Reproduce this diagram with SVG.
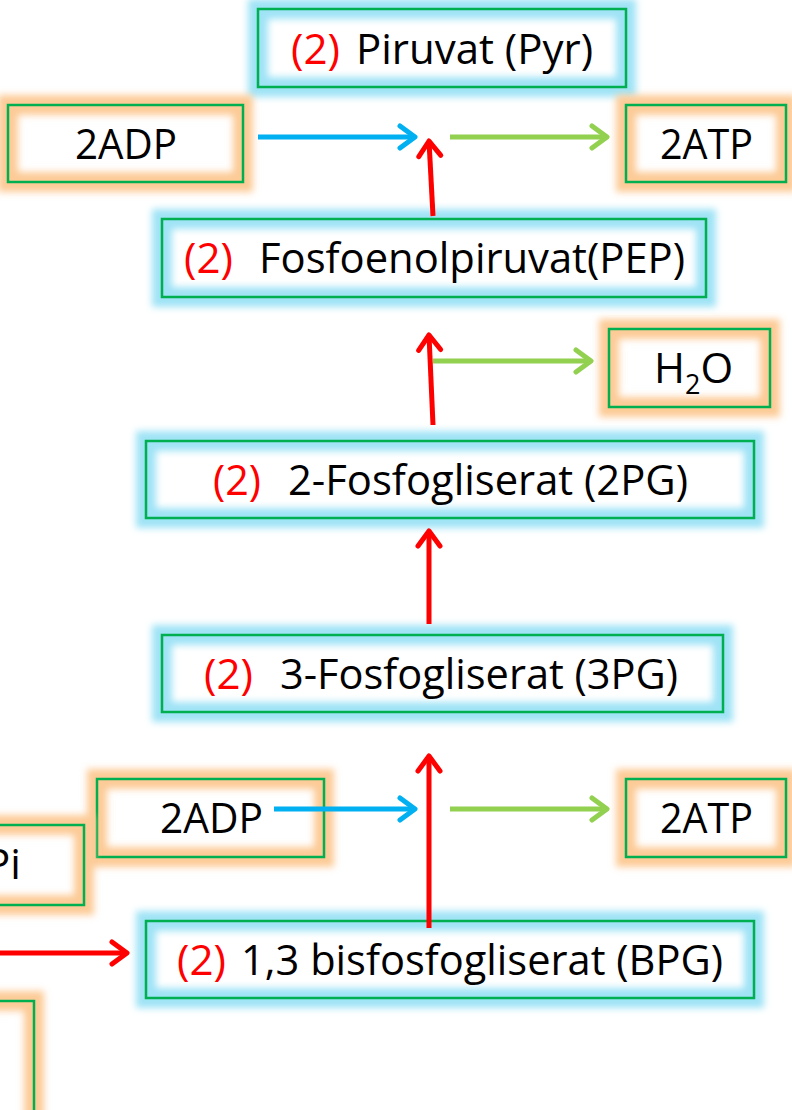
<svg xmlns="http://www.w3.org/2000/svg" width="792" height="1110" viewBox="0 0 792 1110">
<style>
  .lbl { font-family: "Open Sans", "Liberation Sans", sans-serif; font-size: 42px; fill: #000; }
  .num { fill: #FF0000; }
  .border { fill: none; stroke: #00B050; stroke-width: 2.5; }
  .gb { fill: none; stroke: #9FE3F6; stroke-width: 20; filter: url(#blur); }
  .go { fill: none; stroke: #FCCB96; stroke-width: 20; filter: url(#blur); }
  .red { stroke: #FF0000; stroke-width: 5; fill: none; marker-end: url(#mr); }
  .blue { stroke: #00B0F0; stroke-width: 5; fill: none; marker-end: url(#mb); }
  .green { stroke: #92D050; stroke-width: 5; fill: none; marker-end: url(#mg); }
</style>
<defs>
  <filter id="blur" x="-30%" y="-60%" width="160%" height="220%">
    <feGaussianBlur stdDeviation="3.8"/>
  </filter>
  <marker id="mr" markerUnits="userSpaceOnUse" viewBox="-22 -16 28 32" markerWidth="28" markerHeight="32" refX="0" refY="0" orient="auto" overflow="visible">
    <path d="M-15,-11 L0,0 L-15,11" fill="none" stroke="#FF0000" stroke-width="5" stroke-linecap="round" stroke-linejoin="round"/>
  </marker>
  <marker id="mb" markerUnits="userSpaceOnUse" viewBox="-22 -16 28 32" markerWidth="28" markerHeight="32" refX="0" refY="0" orient="auto" overflow="visible">
    <path d="M-15,-11 L0,0 L-15,11" fill="none" stroke="#00B0F0" stroke-width="5" stroke-linecap="round" stroke-linejoin="round"/>
  </marker>
  <marker id="mg" markerUnits="userSpaceOnUse" viewBox="-22 -16 28 32" markerWidth="28" markerHeight="32" refX="0" refY="0" orient="auto" overflow="visible">
    <path d="M-15,-11 L0,0 L-15,11" fill="none" stroke="#92D050" stroke-width="5" stroke-linecap="round" stroke-linejoin="round"/>
  </marker>
</defs>
<rect width="792" height="1110" fill="#FFFFFF"/>

<g id="pyr">
  <rect class="gb" x="258" y="9" width="368" height="78"/>
  <rect class="border" x="258" y="9" width="368" height="78"/>
  <text class="lbl num" x="291" y="64" textLength="49" lengthAdjust="spacingAndGlyphs">(2)</text>
  <text class="lbl" x="356" y="64" textLength="237" lengthAdjust="spacingAndGlyphs">Piruvat (Pyr)</text>
</g>

<g id="adp-top">
  <rect class="go" x="8" y="105" width="235" height="77"/>
  <rect class="border" x="8" y="105" width="235" height="77"/>
  <text class="lbl" x="75" y="159" textLength="102" lengthAdjust="spacingAndGlyphs">2ADP</text>
</g>

<g id="atp-top">
  <rect class="go" x="626" y="105" width="160" height="77"/>
  <rect class="border" x="626" y="105" width="160" height="77"/>
  <text class="lbl" x="660" y="159" textLength="93" lengthAdjust="spacingAndGlyphs">2ATP</text>
</g>

<g id="pep">
  <rect class="gb" x="162" y="219" width="544" height="78"/>
  <rect class="border" x="162" y="219" width="544" height="78"/>
  <text class="lbl num" x="184" y="273" textLength="49" lengthAdjust="spacingAndGlyphs">(2)</text>
  <text class="lbl" x="259" y="273" textLength="426" lengthAdjust="spacingAndGlyphs">Fosfoenolpiruvat(PEP)</text>
</g>

<g id="h2o">
  <rect class="go" x="609" y="329" width="161" height="78"/>
  <rect class="border" x="609" y="329" width="161" height="78"/>
  <text class="lbl" x="654" y="383">H<tspan font-size="27" dy="11">2</tspan><tspan dy="-11">O</tspan></text>
</g>

<g id="pg2">
  <rect class="gb" x="146" y="441" width="608" height="77"/>
  <rect class="border" x="146" y="441" width="608" height="77"/>
  <text class="lbl num" x="213" y="495" textLength="48" lengthAdjust="spacingAndGlyphs">(2)</text>
  <text class="lbl" x="288" y="495" textLength="400" lengthAdjust="spacingAndGlyphs">2-Fosfogliserat (2PG)</text>
</g>

<g id="pg3">
  <rect class="gb" x="162" y="635" width="561" height="77"/>
  <rect class="border" x="162" y="635" width="561" height="77"/>
  <text class="lbl num" x="204" y="689" textLength="49" lengthAdjust="spacingAndGlyphs">(2)</text>
  <text class="lbl" x="280" y="689" textLength="398" lengthAdjust="spacingAndGlyphs">3-Fosfogliserat (3PG)</text>
</g>

<g id="adp-bottom">
  <rect class="go" x="97" y="779" width="227" height="78"/>
  <rect class="border" x="97" y="779" width="227" height="78"/>
  <text class="lbl" x="160" y="833" textLength="103" lengthAdjust="spacingAndGlyphs">2ADP</text>
</g>

<g id="atp-bottom">
  <rect class="go" x="626" y="779" width="160" height="78"/>
  <rect class="border" x="626" y="779" width="160" height="78"/>
  <text class="lbl" x="660" y="833" textLength="93" lengthAdjust="spacingAndGlyphs">2ATP</text>
</g>

<g id="pi">
  <rect class="go" x="-60" y="825" width="144" height="80"/>
  <rect class="border" x="-60" y="825" width="144" height="80"/>
  <text class="lbl" x="-15" y="879">Pi</text>
</g>

<g id="bpg">
  <rect class="gb" x="146" y="921" width="608" height="77"/>
  <rect class="border" x="146" y="921" width="608" height="77"/>
  <text class="lbl num" x="177" y="975" textLength="49" lengthAdjust="spacingAndGlyphs">(2)</text>
  <text class="lbl" x="241" y="975" textLength="482" lengthAdjust="spacingAndGlyphs">1,3 bisfosfogliserat (BPG)</text>
</g>

<g id="bottom-left">
  <rect class="go" x="-120" y="1001" width="154" height="140"/>
  <rect class="border" x="-120" y="1001" width="154" height="140"/>
</g>

<g id="connectors">
  <line class="blue" x1="258" y1="137" x2="415" y2="137"/>
  <line class="green" x1="450" y1="137" x2="607" y2="137"/>
  <line class="red" x1="433" y1="216" x2="429" y2="141"/>
  <line class="red" x1="433" y1="425" x2="429" y2="335"/>
  <line class="green" x1="433" y1="361" x2="591" y2="361"/>
  <line class="red" x1="429" y1="624" x2="429" y2="531"/>
  <line class="red" x1="429" y1="928" x2="429" y2="756"/>
  <line class="blue" x1="274" y1="809" x2="415" y2="809"/>
  <line class="green" x1="450" y1="809" x2="607" y2="809"/>
  <line class="red" x1="-5" y1="953" x2="127" y2="953"/>
</g>
</svg>
